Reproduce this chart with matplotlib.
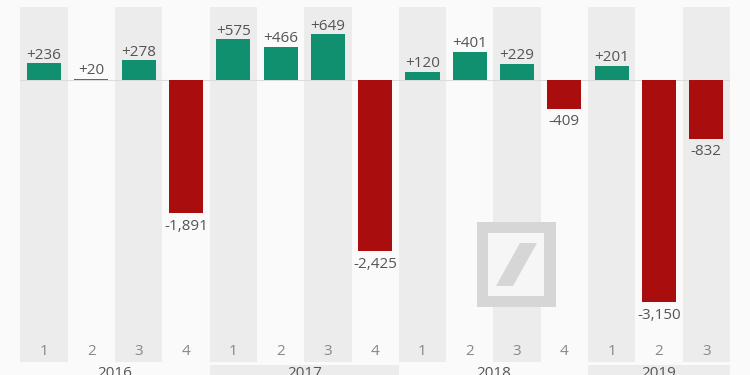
import matplotlib
matplotlib.use("Agg")
from matplotlib import pyplot as plt
from matplotlib.patches import Rectangle, Polygon
from matplotlib.transforms import blended_transform_factory

plt.rcParams['font.family'] = ['Open Sans', 'DejaVu Sans']

# Quarterly net result (million EUR)
years = ["2016", "2017", "2018", "2019"]
quarters = ["1", "2", "3", "4", "1", "2", "3", "4", "1", "2", "3", "4", "1", "2", "3"]
values = [236, 20, 278, -1891, 575, 466, 649, -2425, 120, 401, 229, -409, 201, -3150, -832]
quarters_per_year = [4, 4, 4, 3]

green = "#11906f"
red = "#a90d0d"
bg = "#fafafa"
band = "#ececec"

W, H = 750, 375
fig = plt.figure(figsize=(7.5, 3.75), dpi=100, facecolor=bg)
ax = fig.add_axes([20.35 / W, (H - 362) / H, (730 - 20.35) / W, (362 - 7) / H])
ax.set_facecolor(bg)
ax.set_xlim(-0.5, len(values) - 0.5)
ax.set_ylim(-4000, 1035)
for s in ax.spines.values():
    s.set_visible(False)
ax.set_xticks([])
ax.set_yticks([])

# grey bands behind Q1 / Q3
for i, q in enumerate(quarters):
    if q in ("1", "3"):
        ax.axvspan(i - 0.5, i + 0.5, color=band, zorder=0, lw=0)

ax.axhline(0, color="#dcdcdc", lw=0.8, zorder=1)

x = list(range(len(values)))
colors = [green if v >= 0 else red for v in values]
ax.bar(x, values, width=0.72, color=colors, zorder=2)

for xi, v in zip(x, values):
    label = f"{v:+,}"
    if v >= 0:
        ax.annotate(label, (xi, v), xytext=(0, 0.5), textcoords="offset points",
                    ha="center", va="bottom", fontsize=11, color="#555555")
    else:
        ax.annotate(label, (xi, v), xytext=(0, -4), textcoords="offset points",
                    ha="center", va="top", fontsize=11, color="#555555")

trans = blended_transform_factory(ax.transData, ax.transAxes)
for xi, q in zip(x, quarters):
    ax.text(xi, 0.03, q, transform=trans, ha="center", va="center",
            fontsize=11, color="#888888")


# logo watermark, drawn in figure pixel coordinates
def px(xp, yp):
    return (xp / W, 1 - yp / H)


logo_color = "#d6d6d6"
x0, y0 = px(477, 307)
fig.patches.append(Rectangle((x0, y0), 79 / W, 85 / H, transform=fig.transFigure,
                             facecolor=logo_color, edgecolor="none", zorder=3))
x1, y1 = px(488, 296)
fig.patches.append(Rectangle((x1, y1), 56 / W, 63 / H, transform=fig.transFigure,
                             facecolor="#f6f6f6", edgecolor="none", zorder=3))
fig.patches.append(Polygon([px(496, 286), px(513, 286), px(537, 243), px(520, 243)],
                           closed=True, transform=fig.transFigure,
                           facecolor=logo_color, edgecolor="none", zorder=4))

# year row at the bottom
start = 0
for yr, n in zip(years, quarters_per_year):
    left = ax.transData.transform((start - 0.5, 0))[0]
    right = ax.transData.transform((start + n - 0.5, 0))[0]
    if yr in ("2017", "2019"):
        fig.patches.append(Rectangle((left / W, 0), (right - left) / W, (H - 365) / H,
                                     transform=fig.transFigure, facecolor=band,
                                     edgecolor="none", zorder=0))
    fig.text((left + right) / 2 / W, 1 - 366 / H, yr, ha="center", va="top",
             fontsize=11, color="#555555")
    start += n

fig.savefig("out.png", dpi=100, facecolor=bg)
